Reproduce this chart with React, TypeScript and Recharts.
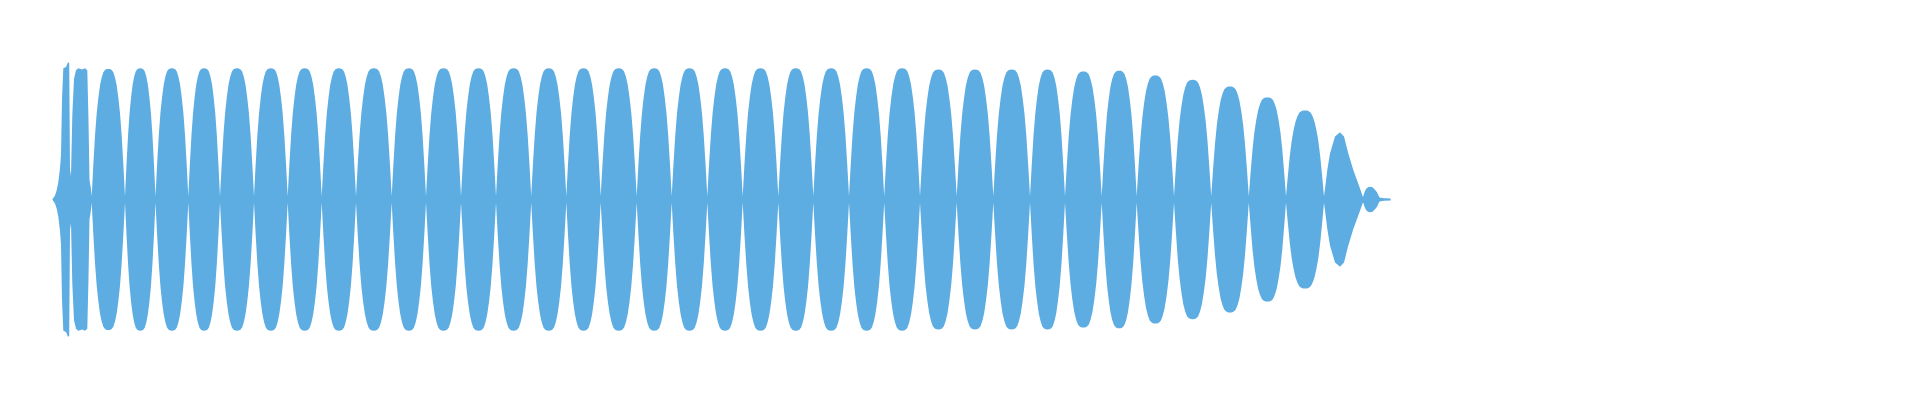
import React from "react";
import { AreaChart, Area, XAxis, YAxis } from "recharts";

// Opening transient (frame, amplitude)
const introFrames = [44.3, 47, 48.7, 50.3, 52, 53, 54, 55.3, 58, 60, 61.2, 62, 63, 64.3, 66, 68, 70.3, 74, 77, 79.3, 80.5, 81.5, 83];
const introAmps = [0, 0.03, 0.07, 0.13, 0.24, 0.34, 0.76, 1.0, 1.01, 1.045, 1.04, 0.23, 0.18, 0.64, 0.92, 0.985, 1.0, 0.99, 1.0, 0.985, 0.6, 0.15, 0.08];

// Frames where the envelope pinches between lobes
const lobeNodes = [
  83.7, 117, 147.5, 180.3, 212, 246, 279.7, 313.7, 348, 383.7, 418, 453, 488, 523.2, 558.3, 592.7,
  628.7, 663.7, 699.3, 734.7, 770.3, 805.3, 841, 876.2, 912, 948.7, 985.3, 1022, 1057, 1093.7,
  1128.7, 1166, 1203.2, 1240.8, 1278, 1316,
];
// Peak amplitude of each lobe between consecutive nodes
const lobePeaks = [
  0.995, 1.0, 1.0, 1.0, 1.0, 1.0, 1.0, 1.0, 1.0, 1.0, 1.0, 1.0, 1.0, 1.0, 1.0, 1.0, 1.0, 1.0,
  1.0, 1.0, 1.0, 1.0, 1.0, 1.0, 0.99, 0.99, 0.99, 0.99, 0.976, 0.981, 0.945, 0.912, 0.861, 0.777, 0.678,
];
// Lobe outline: position within the lobe and relative height
const lobeShapePos = [0, 0.05, 0.1, 0.15, 0.2, 0.25, 0.3, 0.35, 0.4, 0.45, 0.5, 0.55, 0.6, 0.65, 0.7, 0.75, 0.8, 0.85, 0.9, 0.95];
const lobeShapeLevel = [0.025, 0.27, 0.49, 0.66, 0.78, 0.875, 0.935, 0.975, 0.992, 0.999, 1, 0.999, 0.992, 0.975, 0.935, 0.875, 0.78, 0.66, 0.49, 0.27];

// Decay and tail (frame, amplitude)
const tailFrames = [1316, 1317.3, 1319.3, 1322, 1327, 1332, 1336, 1340.3, 1345.3, 1351.3, 1355, 1355.5, 1356.5, 1358, 1360, 1362, 1364.5, 1367, 1369, 1370.5, 1371.5, 1376, 1382.7];
const tailAmps = [0.025, 0.1, 0.225, 0.35, 0.48, 0.513, 0.48, 0.35, 0.225, 0.1, 0.02, 0.03, 0.055, 0.08, 0.093, 0.098, 0.093, 0.075, 0.055, 0.03, 0.015, 0.01, 0.008];

type Row = { frame: number; band: [number, number] };

const rows: Row[] = [];
introFrames.forEach((f, i) => rows.push({ frame: f, band: [-introAmps[i], introAmps[i]] }));
for (let k = 0; k < lobePeaks.length; k++) {
  const a = lobeNodes[k];
  const b = lobeNodes[k + 1];
  lobeShapePos.forEach((p, j) => {
    const amp = j === 0 ? lobeShapeLevel[0] : lobePeaks[k] * lobeShapeLevel[j];
    rows.push({ frame: a + p * (b - a), band: [-amp, amp] });
  });
}
tailFrames.forEach((f, i) => rows.push({ frame: f, band: [-tailAmps[i], tailAmps[i]] }));

export default function App() {
  return (
    <div style={{ width: 1904, height: 384 }}>
      <AreaChart width={1904} height={384} data={rows} margin={{ top: 34, right: 0, bottom: 35, left: 0 }}>
        <XAxis type="number" dataKey="frame" domain={[0, 1904]} hide />
        <YAxis type="number" domain={[-1.2, 1.2]} hide />
        <Area
          type="linear"
          dataKey="band"
          stroke="none"
          fill="#5DADE2"
          fillOpacity={1}
          isAnimationActive={false}
          dot={false}
          activeDot={false}
        />
      </AreaChart>
    </div>
  );
}
